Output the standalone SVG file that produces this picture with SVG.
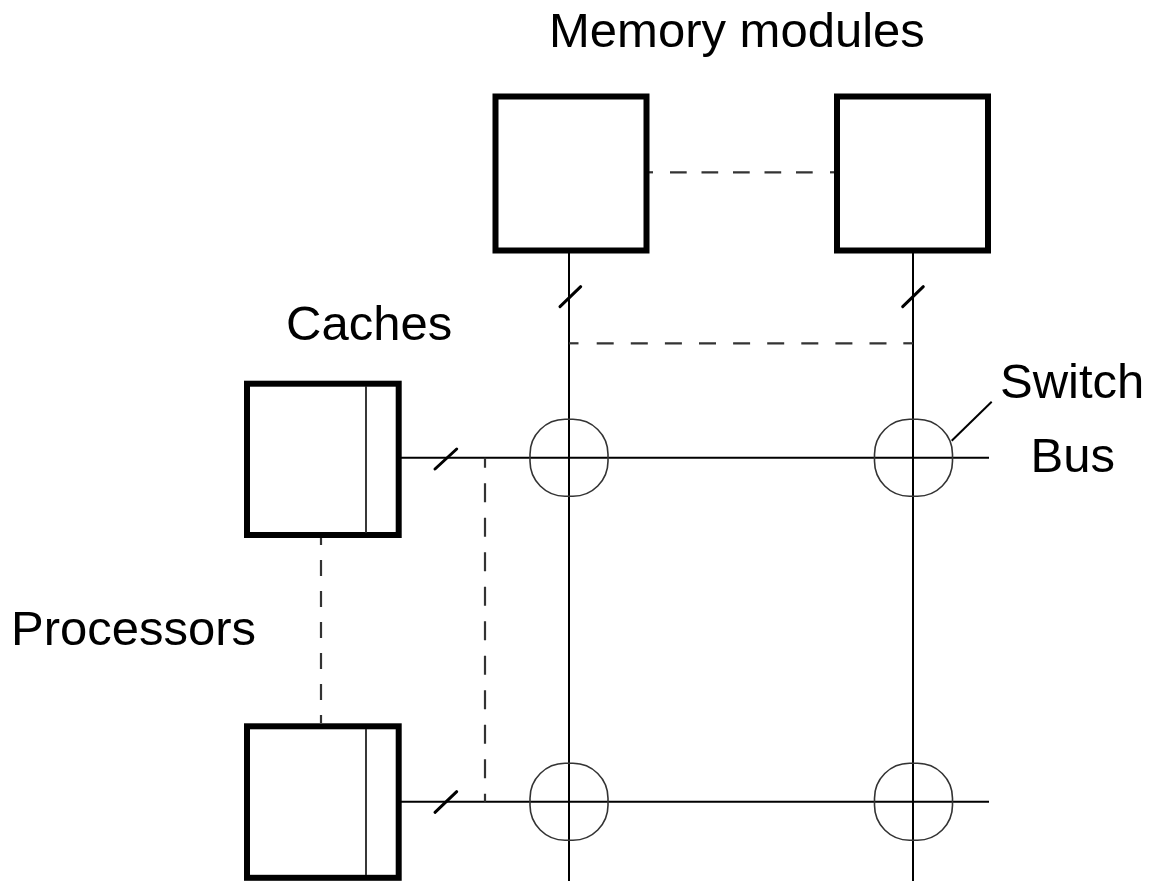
<svg xmlns="http://www.w3.org/2000/svg" width="1155" height="881" viewBox="0 0 1155 881">
<style>
.box{fill:#fff;stroke:#000;stroke-width:6}
.thin{stroke:#000;stroke-width:2;fill:none}
.div{stroke:#222;stroke-width:1.8}
.slash{stroke:#000;stroke-width:3;stroke-linecap:round}
.dash{stroke:#333;stroke-width:2.2;fill:none}
.sw{fill:none;stroke:#333;stroke-width:1.6}
.lbl{font-family:"Liberation Sans",Arial,sans-serif;font-size:49px;fill:#000}
</style>
<rect width="1155" height="881" fill="#fff"/>
<g id="connectors">
<line class="thin" x1="569" y1="253" x2="569" y2="881"/>
<line class="thin" x1="913" y1="253" x2="913" y2="881"/>
<line class="thin" x1="401" y1="457.7" x2="989" y2="457.7"/>
<line class="thin" x1="401" y1="801.7" x2="989" y2="801.7"/>
<line class="slash" x1="560" y1="306.7" x2="580.7" y2="286.7"/>
<line class="slash" x1="902.7" y1="306.7" x2="923.3" y2="286.7"/>
<line class="slash" x1="435" y1="469" x2="456.7" y2="449"/>
<line class="slash" x1="435" y1="812.3" x2="456.7" y2="791.7"/>
<line class="dash" x1="646" y1="172.3" x2="653" y2="172.3" stroke="#000" stroke-width="4"/>
<line class="dash" x1="830" y1="172.3" x2="837" y2="172.3" stroke="#000" stroke-width="4"/>
<line class="dash" x1="670" y1="172.3" x2="813.5" y2="172.3" stroke-dasharray="16.7 14.8" stroke="#000"/>
<line class="dash" x1="569" y1="343.3" x2="578.5" y2="343.3" stroke-width="3"/>
<line class="dash" x1="596.7" y1="343.3" x2="886.7" y2="343.3" stroke-dasharray="17 17.1"/>
<line class="dash" x1="903.3" y1="343.3" x2="913" y2="343.3" stroke-width="3"/>
<line class="dash" x1="321" y1="538" x2="321" y2="723" stroke-dasharray="16 15" stroke-dashoffset="9"/>
<line class="dash" x1="485" y1="457.7" x2="485" y2="801.7" stroke-dasharray="19 15.5" stroke-dashoffset="8.9"/>
<line class="thin" x1="951.7" y1="440.7" x2="991.7" y2="401.7" stroke-width="1.8"/>
</g>
<g id="mem1"><rect class="box" x="495.5" y="96.5" width="151" height="154"/></g>
<g id="mem2"><rect class="box" x="837" y="96.5" width="151" height="154"/></g>
<g id="proc1"><rect class="box" x="247" y="383.7" width="151.7" height="151.3"/><line class="div" x1="366" y1="386" x2="366" y2="533"/></g>
<g id="proc2"><rect class="box" x="247" y="726.3" width="151.7" height="151.5"/><line class="div" x1="366" y1="729" x2="366" y2="875"/></g>
<g id="switches">
<rect class="sw" x="530" y="419.2" width="78" height="77" rx="35"/>
<rect class="sw" x="874.5" y="419.2" width="78" height="77" rx="35"/>
<rect class="sw" x="530" y="763.2" width="78" height="77" rx="35"/>
<rect class="sw" x="874.5" y="763.2" width="78" height="77" rx="35"/>
</g>
<g id="labels">
<text class="lbl" x="549" y="46.7">Memory modules</text>
<text class="lbl" x="286" y="340">Caches</text>
<text class="lbl" x="11" y="645">Processors</text>
<text class="lbl" x="1000" y="398.3">Switch</text>
<text class="lbl" x="1030.5" y="471.7">Bus</text>
</g>
</svg>
